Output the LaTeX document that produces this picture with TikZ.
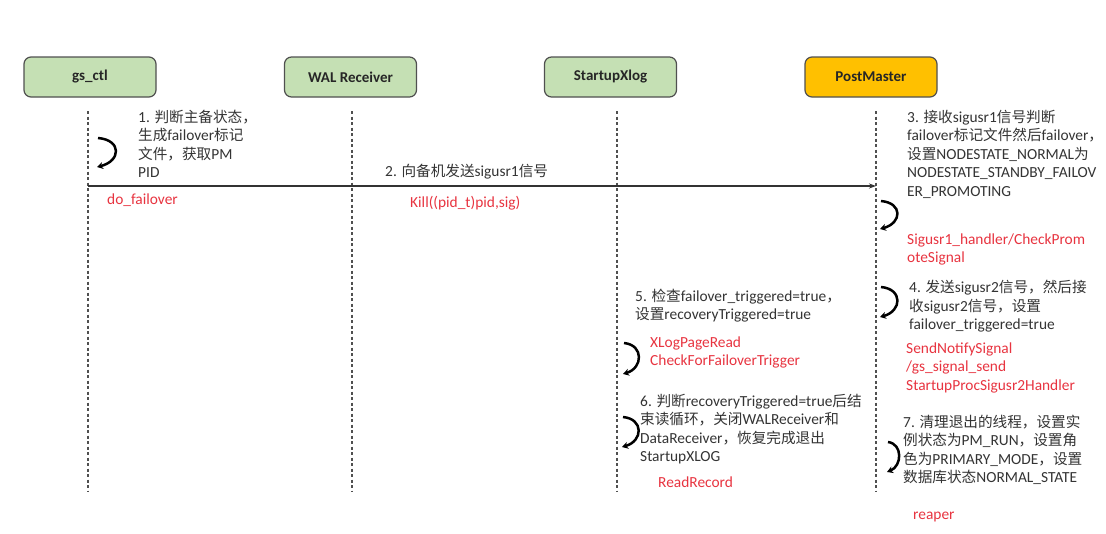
\documentclass[tikz,border=0pt]{standalone}
\usepackage{fontspec}
\setmainfont{Carlito}
\newfontfamily\cjk[Scale=0.95]{Noto Sans CJK SC}
\usetikzlibrary{arrows.meta}
\definecolor{txt}{RGB}{52,52,52}
\definecolor{redtxt}{RGB}{232,52,64}
\definecolor{boxgreen}{RGB}{197,224,180}
\definecolor{boxorange}{RGB}{255,192,0}
\definecolor{boxline}{RGB}{80,80,80}
\newcommand\zh[1]{{\cjk #1}}
\newcommand\fl{\rule{0pt}{12pt}}
\tikzset{
  actor/.style={draw=boxline, line width=1.2pt, rounded corners=7pt, minimum width=132pt, minimum height=40pt, inner sep=0pt, font=\fontsize{15}{18}\selectfont\bfseries, text=black!85},
  lifeline/.style={draw=boxline, line width=1.1pt, dash pattern=on 3pt off 2.5pt},
  note/.style={anchor=north west, inner sep=0pt, align=left, text=txt, font=\fontsize{15.4}{18.4}\selectfont},
  code/.style={note, text=redtxt},
  msg/.style={draw=black!80, line width=1.3pt, -{Stealth[length=7pt,width=5pt]}},
  curl/.style={draw=black, line width=2.5pt, -{Stealth[length=6pt,width=7pt]}}
}
\begin{document}
\begin{tikzpicture}[x=1pt,y=-1pt]
\useasboundingbox[fill=white] (0,0) rectangle (1106,533);
% actors
\node[actor, fill=boxgreen] (gs) at (90,77) {gs\_ctl};
\node[actor, fill=boxgreen] (wal) at (350.5,77) {WAL Receiver};
\node[actor, fill=boxgreen] (sx) at (610.5,77) {StartupXlog};
\node[actor, fill=boxorange] (pm) at (871,77) {PostMaster};
% lifelines
\coordinate (gsT) at (88,111);  \coordinate (gsB) at (88,492);
\coordinate (walT) at (352,111); \coordinate (walB) at (352,492);
\coordinate (sxT) at (617,111);  \coordinate (sxB) at (617,492);
\coordinate (pmT) at (876,111);  \coordinate (pmB) at (876,492);
\draw[lifeline] (gsT) -- (gsB);
\draw[lifeline] (walT) -- (walB);
\draw[lifeline] (sxT) -- (sxB);
\draw[lifeline] (pmT) -- (pmB);
% message
\coordinate (m1) at (88,186);
\coordinate (m2) at (876,186);
\draw[msg] (m1) -- (m2);
% curls
\coordinate (c1a) at (98,138);  \coordinate (c1b) at (97,167);
\coordinate (c3a) at (881,201); \coordinate (c3b) at (880,229);
\coordinate (c4a) at (881,287); \coordinate (c4b) at (880,317);
\coordinate (c5a) at (624,343); \coordinate (c5b) at (623,374);
\coordinate (c6a) at (623,417); \coordinate (c6b) at (622,447);
\coordinate (c7a) at (888,442); \coordinate (c7b) at (887,472);
\draw[curl] (c1a) .. controls +(24,2) and +(24,-6) .. (c1b);
\draw[curl] (c3a) .. controls +(22,2) and +(22,-6) .. (c3b);
\draw[curl] (c4a) .. controls +(22,2) and +(22,-6) .. (c4b);
\draw[curl] (c5a) .. controls +(20,2) and +(20,-6) .. (c5b);
\draw[curl] (c6a) .. controls +(21,2) and +(21,-6) .. (c6b);
\draw[curl] (c7a) .. controls +(15,2) and +(15,-6) .. (c7b);
% texts
\node[note] (t1) at (138,110) {\fl 1. \zh{判断主备状态，}\\\zh{生成}failover\zh{标记}\\\zh{文件，获取}PM\\PID};
\node[note, anchor=west] (t2) at (385,172) {2. \zh{向备机发送}sigusr1\zh{信号}};
\node[code, anchor=west] (dof) at (107,200) {do\_failover};
\node[code, anchor=west] (kill) at (410,203) {Kill((pid\_t)pid,sig)};
\node[note] (t3) at (907,110) {\fl 3. \zh{接收}sigusr1\zh{信号判断}\\failover\zh{标记文件然后}failover\zh{，}\\\zh{设置}NODESTATE\_NORMAL\zh{为}\\NODESTATE\_STANDBY\_FAILOV\\ER\_PROMOTING};
\node[code] (sig1) at (907,232) {\fl Sigusr1\_handler/CheckProm\\oteSignal};
\node[note] (t4) at (909,280) {\fl 4. \zh{发送}sigusr2\zh{信号，然后接}\\\zh{收}sigusr2\zh{信号，设置}\\failover\_triggered=true};
\node[code] (send) at (906,341) {\fl SendNotifySignal\\/gs\_signal\_send\\StartupProcSigusr2Handler};
\node[note] (t5) at (635,289) {\fl 5. \zh{检查}failover\_triggered=true\zh{，}\\\zh{设置}recoveryTriggered=true};
\node[code] (xlog) at (650,335) {\fl XLogPageRead\\CheckForFailoverTrigger};
\node[note] (t6) at (640,394) {\fl 6. \zh{判断}recoveryTriggered=true\zh{后结}\\\zh{束读循环，关闭}WALReceiver\zh{和}\\DataReceiver\zh{，恢复完成退出}\\StartupXLOG};
\node[code, anchor=west] (rr) at (658,482) {ReadRecord};
\node[note] (t7) at (903,415) {\fl 7. \zh{清理退出的线程，设置实}\\\zh{例状态为}PM\_RUN\zh{，设置角}\\\zh{色为}PRIMARY\_MODE\zh{，设置}\\\zh{数据库状态}NORMAL\_STATE};
\node[code, anchor=west] (reaper) at (913,517) {reaper};
\end{tikzpicture}
\end{document}
